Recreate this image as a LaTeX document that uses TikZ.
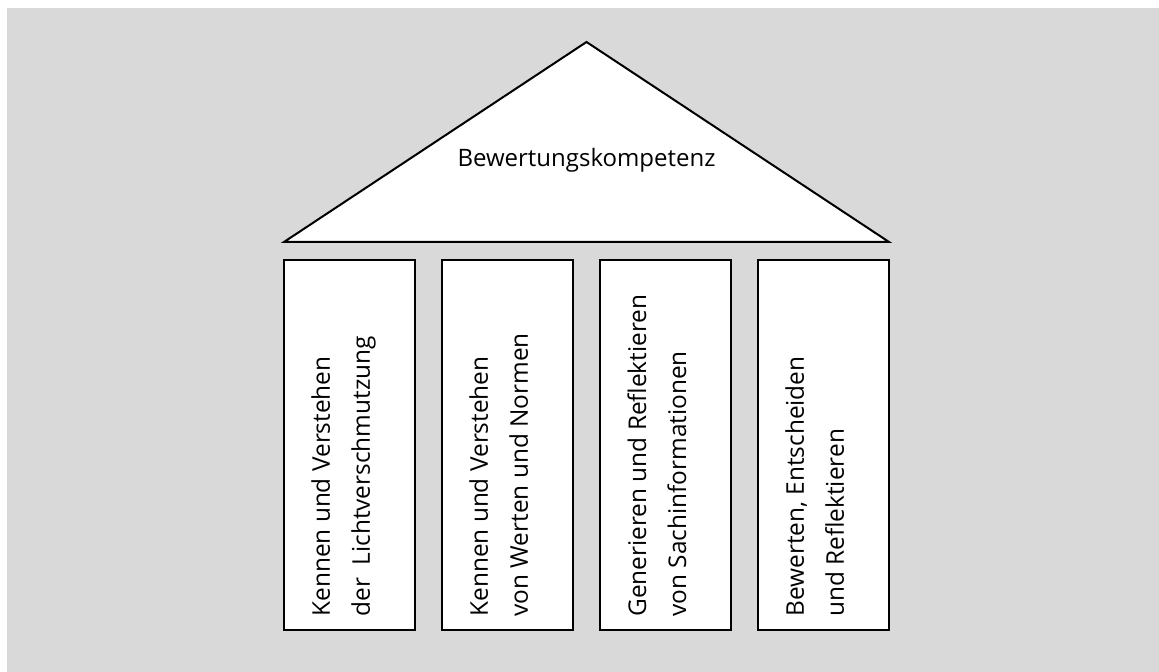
\documentclass[tikz,border=0pt]{standalone}
\usepackage{fontspec}
\setmainfont{Open Sans}
\usetikzlibrary{positioning,calc}
\definecolor{wallgray}{RGB}{217,217,217}

\begin{document}
\begin{tikzpicture}[
x=1pt, y=1pt,
node distance = 13.5pt,
pillar/.style = {draw=black, fill=white, line width=1pt,
                 minimum width=65.5pt, minimum height=185pt,
                 inner sep=0pt, outer sep=0pt},
pillartext/.style = {rotate=90, anchor=north west, align=left,
                 inner sep=0pt, font=\fontsize{12.2}{20}\selectfont},
roofline/.style = {draw=black, fill=white, line width=1pt,
                   line join=miter},
]
\useasboundingbox (0,0) rectangle (579.5,336);
\fill[wallgray] (3.5,0) rectangle (579.5,332);
% pillars
\node (pillar1) [pillar, anchor=south west] at (142,21) {};
\node (pillar2) [pillar, right=of pillar1] {};
\node (pillar3) [pillar, right=of pillar2] {};
\node (pillar4) [pillar, right=of pillar3] {};
\node (text1) [pillartext] at ([xshift=13.5pt,yshift=6.5pt]pillar1.south west)
      {Kennen und Verstehen\\der\ \ Lichtverschmutzung};
\node (text2) [pillartext] at ([xshift=13.5pt,yshift=6.5pt]pillar2.south west)
      {Kennen und Verstehen\\von Werten und Normen};
\node (text3) [pillartext] at ([xshift=13.5pt,yshift=6.5pt]pillar3.south west)
      {Generieren und Reflektieren\\von Sachinformationen};
\node (text4) [pillartext] at ([xshift=13.5pt,yshift=6.5pt]pillar4.south west)
      {Bewerten, Entscheiden\\und Reflektieren};
% roof
\coordinate (roofL) at ([yshift=9pt]pillar1.north west);
\coordinate (roofR) at ([yshift=9pt]pillar4.north east);
\coordinate (roofTop) at ($(roofL)!0.5!(roofR)+(0,100)$);
\draw[roofline] (roofL) -- (roofTop) -- (roofR) -- cycle;
\node (title) [anchor=base, inner sep=0pt, font=\fontsize{12}{14}\selectfont]
      at ($(roofL)!0.5!(roofR)+(0,37.5)$) {Bewertungskompetenz};
\end{tikzpicture}
\end{document}
